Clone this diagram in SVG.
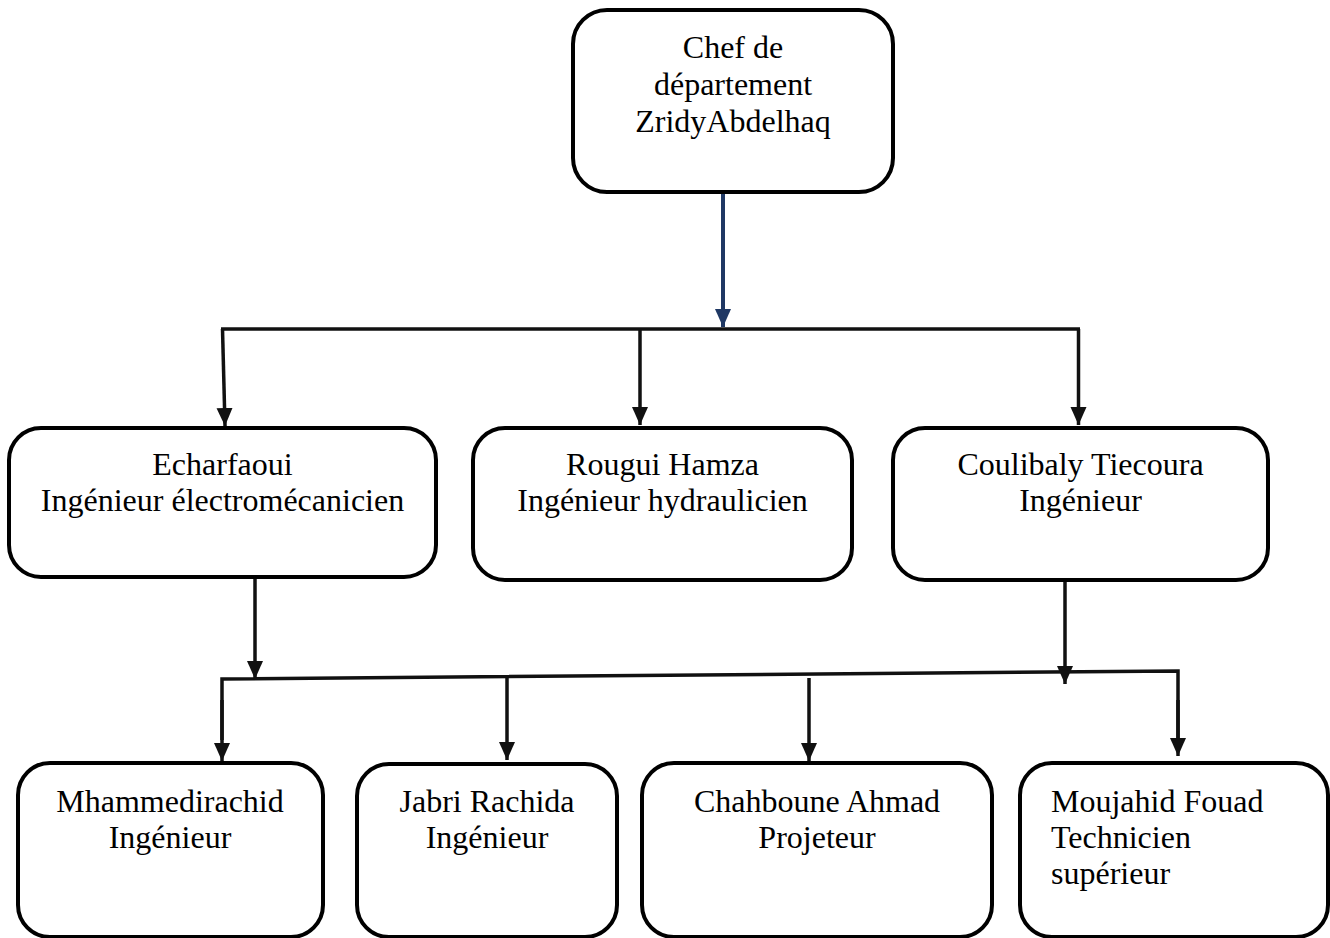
<svg xmlns="http://www.w3.org/2000/svg" width="1330" height="938" viewBox="0 0 1330 938">
<style>
.box{fill:#fff;stroke:#000;stroke-width:4}
.t{font-family:"Liberation Serif","Times New Roman",serif;font-size:32px;fill:#000}
.c{text-anchor:middle}
.ln{fill:none;stroke:#111;stroke-width:3.5}
.blue{fill:none;stroke:#1f3864;stroke-width:4}
</style>
<defs>
<marker id="ah" markerUnits="userSpaceOnUse" viewBox="0 0 18 18" markerWidth="18" markerHeight="18" refX="18" refY="9" orient="auto">
<path d="M0,1 L18,9 L0,17 Z" fill="#111"/>
</marker>
<marker id="ahb" markerUnits="userSpaceOnUse" viewBox="0 0 18 18" markerWidth="18" markerHeight="18" refX="18" refY="9" orient="auto">
<path d="M0,1 L18,9 L0,17 Z" fill="#1f3864"/>
</marker>
</defs>
<rect width="1330" height="938" fill="#fff"/>
<g id="connectors">
<line class="blue" x1="723" y1="192" x2="723" y2="327" marker-end="url(#ahb)"/>
<line class="ln" x1="221" y1="329" x2="1080" y2="329"/>
<line class="ln" x1="222.5" y1="329" x2="225" y2="426" marker-end="url(#ah)"/>
<line class="ln" x1="640" y1="330" x2="640" y2="425" marker-end="url(#ah)"/>
<line class="ln" x1="1078.5" y1="329" x2="1078.5" y2="425" marker-end="url(#ah)"/>
<line class="ln" x1="255" y1="578" x2="255" y2="679" marker-end="url(#ah)"/>
<line class="ln" x1="1065" y1="581" x2="1065" y2="684" marker-end="url(#ah)"/>
<polyline class="ln" points="222,740 222,679 1178,671 1178,740" />
<line class="ln" x1="222" y1="700" x2="222" y2="761" marker-end="url(#ah)"/>
<line class="ln" x1="1178" y1="700" x2="1178" y2="756" marker-end="url(#ah)"/>
<line class="ln" x1="507" y1="678" x2="507" y2="760" marker-end="url(#ah)"/>
<line class="ln" x1="809" y1="678" x2="809" y2="761" marker-end="url(#ah)"/>
</g>
<g id="chef">
<rect class="box" x="573" y="10" width="320" height="182" rx="34"/>
<text class="t c" x="733" y="58">Chef de</text>
<text class="t c" x="733" y="95">département</text>
<text class="t c" x="733" y="132">ZridyAbdelhaq</text>
</g>
<g id="echarfaoui">
<rect class="box" x="9" y="428" width="427" height="149" rx="32"/>
<text class="t c" x="222.5" y="475">Echarfaoui</text>
<text class="t c" x="222.5" y="511">Ingénieur électromécanicien</text>
</g>
<g id="rougui">
<rect class="box" x="473" y="428" width="379" height="152" rx="32"/>
<text class="t c" x="662.5" y="475">Rougui Hamza</text>
<text class="t c" x="662.5" y="511">Ingénieur hydraulicien</text>
</g>
<g id="coulibaly">
<rect class="box" x="893" y="428" width="375" height="152" rx="32"/>
<text class="t c" x="1080.5" y="475">Coulibaly Tiecoura</text>
<text class="t c" x="1080.5" y="511">Ingénieur</text>
</g>
<g id="mhammedirachid">
<rect class="box" x="18" y="763" width="305" height="174" rx="32"/>
<text class="t c" x="170" y="812">Mhammedirachid</text>
<text class="t c" x="170" y="848">Ingénieur</text>
</g>
<g id="jabri">
<rect class="box" x="357" y="764" width="260" height="173" rx="32"/>
<text class="t c" x="487" y="812">Jabri Rachida</text>
<text class="t c" x="487" y="848">Ingénieur</text>
</g>
<g id="chahboune">
<rect class="box" x="642" y="763" width="350" height="174" rx="32"/>
<text class="t c" x="817" y="812">Chahboune Ahmad</text>
<text class="t c" x="817" y="848">Projeteur</text>
</g>
<g id="moujahid">
<rect class="box" x="1020" y="763" width="308" height="174" rx="32"/>
<text class="t" x="1051" y="812">Moujahid Fouad</text>
<text class="t" x="1051" y="848">Technicien</text>
<text class="t" x="1051" y="884">supérieur</text>
</g>
</svg>
